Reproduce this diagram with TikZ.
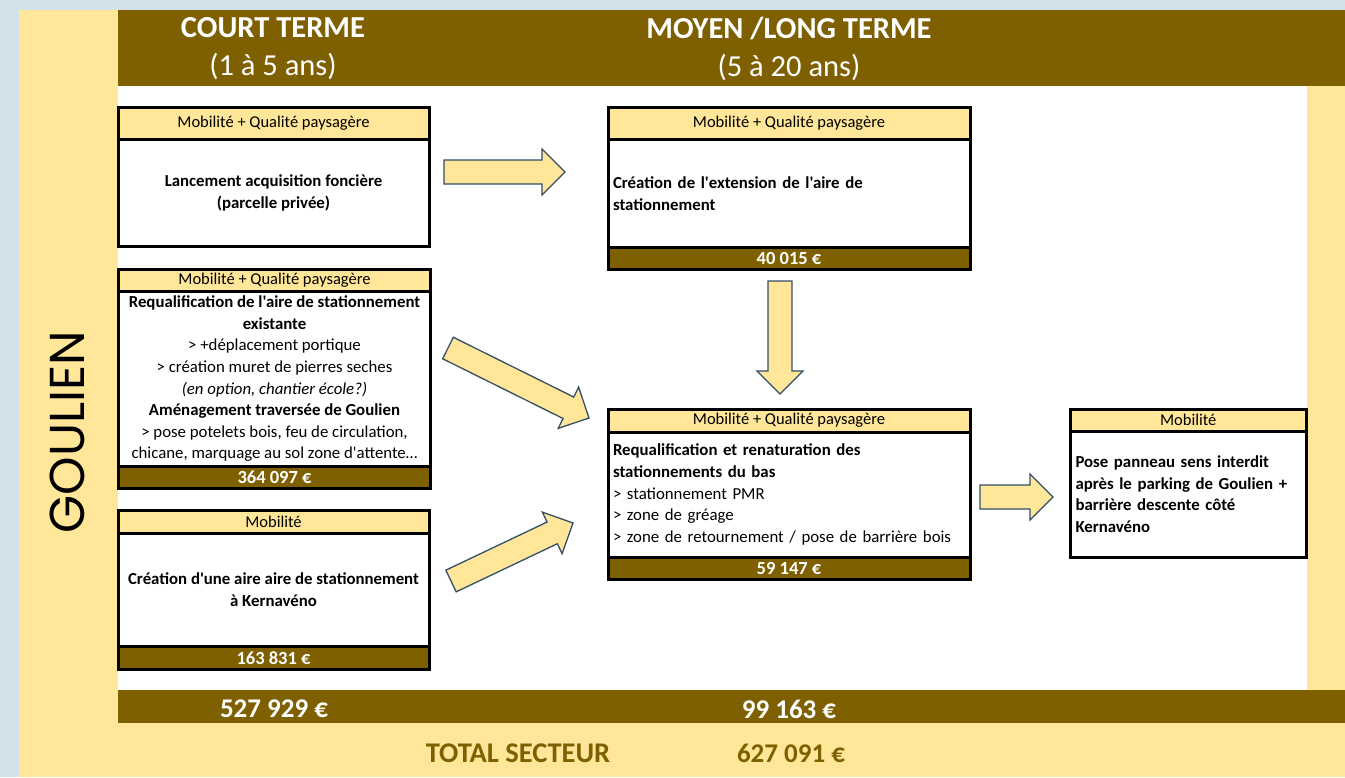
\documentclass[tikz,border=0pt]{standalone}
\usepackage{fontspec}
\setmainfont{Carlito}[Ligatures=TeXOff]
\newfontfamily\secteurfont{Poppins}
\usepackage{xcolor}
\usepackage{tikz}
\usetikzlibrary{calc}

\definecolor{brun}{RGB}{127,96,0}
\definecolor{jaune}{RGB}{255,230,153}
\definecolor{bleugris}{RGB}{210,226,234}
\definecolor{contour}{RGB}{52,78,105}

\tikzset{
    titre/.style={text=white, align=center, font=\fontsize{30.5}{38}\selectfont},
    secteur/.style={font=\secteurfont\fontsize{49}{49}\selectfont},
    entete/.style={draw=black, line width=3pt, fill=jaune, anchor=north west, outer sep=0pt,
        inner sep=0pt, font=\fontsize{16.5}{18}\selectfont},
    corps/.style={draw=black, line width=3pt, fill=white, anchor=north west, outer sep=0pt,
        inner xsep=5pt, inner ysep=0pt, font=\fontsize{16.8}{21.6}\selectfont},
    cout/.style={draw=black, line width=3pt, fill=brun, text=white, anchor=north west, outer sep=0pt,
        inner sep=0pt, font=\bfseries\fontsize{18.5}{19}\selectfont},
    total/.style={text=white, font=\bfseries\fontsize{27}{27}\selectfont},
    fleche/.style={draw=contour, fill=jaune, line width=1.3pt, line join=miter},
}

% grosse fleche pleine entre deux points nommes
\newcommand{\grossefleche}[2]{%
    \coordinate (tmp) at ($(#2)!23pt!(#1)$);
    \draw[fleche] ($(#1)!12pt!90:(#2)$) -- ($(tmp)!12pt!90:(#2)$) -- ($(tmp)!23pt!90:(#2)$)
        -- (#2) -- ($(tmp)!23pt!-90:(#2)$) -- ($(tmp)!12pt!-90:(#2)$) -- ($(#1)!12pt!-90:(#2)$) -- cycle;}

\begin{document}
\begin{tikzpicture}[x=1pt, y=-1pt]
    \useasboundingbox (0,0) rectangle (1345,777);

    % Fond
    \fill[bleugris] (0,0) rectangle (1345,777);
    \fill[jaune] (19,10) rectangle (1345,777);
    \fill[brun] (118,10) rectangle (1345,86);
    \fill[white] (118,86) rectangle (1307,690);
    \fill[brun] (118,690) rectangle (1345,723);

    % Titres
    \node[titre] (court) at (273,49) {\textbf{COURT TERME}\\(1 à 5 ans)};
    \node[titre] (moyen) at (789,49) {\textbf{MOYEN /LONG TERME}\\(5 à 20 ans)};
    \node[secteur, rotate=90] (goulien) at (67,432) {GOULIEN};

    % Court terme
    \node[entete, minimum width=311, minimum height=32] (h1) at (118,107.5) {Mobilité + Qualité paysagère};
    \node[corps, minimum width=311, minimum height=107, align=center] (c1) at (h1.south west)
        {\textbf{Lancement acquisition foncière}\\\textbf{(parcelle privée)}};

    \node[entete, minimum width=312, minimum height=22.5] (h2) at (118.5,269) {Mobilité + Qualité paysagère};
    \node[corps, minimum width=312, minimum height=174.5, align=center] (c2) at (h2.south west)
        {\textbf{Requalification de l'aire de stationnement}\\\textbf{existante}\\
        > +déplacement portique\\> création muret de pierres seches\\
        \textit{(en option, chantier école?)}\\\textbf{Aménagement traversée de Goulien}\\
        > pose potelets bois, feu de circulation,\\chicane, marquage au sol zone d'attente…};
    \node[cout, minimum width=312, minimum height=22] (k2) at (c2.south west) {364 097 €};

    \node[entete, minimum width=311, minimum height=23] (h3) at (118,510) {Mobilité};
    \node[corps, minimum width=311, minimum height=113.5, align=center] (c3) at (h3.south west)
        {\textbf{Création d'une aire aire de stationnement}\\\textbf{à Kernavéno}};
    \node[cout, minimum width=311, minimum height=22.5] (k3) at (c3.south west) {163 831 €};

    % Moyen / long terme
    \node[entete, minimum width=362, minimum height=32] (h4) at (608,107.5) {Mobilité + Qualité paysagère};
    \node[corps, text width=352, minimum height=108, align=left] (c4) at (h4.south west)
        {\textbf{Création de l'extension de l'aire de}\\\textbf{stationnement}};
    \node[cout, minimum width=362, minimum height=22] (k4) at (c4.south west) {40 015 €};

    \node[entete, minimum width=362, minimum height=23] (h5) at (608,409) {Mobilité + Qualité paysagère};
    \node[corps, text width=352, minimum height=125, align=left] (c5) at (h5.south west)
        {\textbf{Requalification et renaturation des}\\\textbf{stationnements du bas}\\
        > stationnement PMR\\> zone de gréage\\> zone de retournement / pose de barrière bois};
    \node[cout, minimum width=362, minimum height=22.5] (k5) at (c5.south west) {59 147 €};

    \node[entete, minimum width=235.5, minimum height=22.5] (h6) at (1070.5,409) {Mobilité};
    \node[corps, text width=225.5, minimum height=125.5, align=left] (c6) at (h6.south west)
        {\textbf{Pose panneau sens interdit}\\\textbf{après le parking de Goulien +}\\
        \textbf{barrière descente côté}\\\textbf{Kernavéno}};

    % Fleches
    \coordinate (f1a) at (444,172);  \coordinate (f1b) at (565,172);
    \coordinate (f2a) at (780,281);  \coordinate (f2b) at (780,394);
    \coordinate (f3a) at (448,348);  \coordinate (f3b) at (589,418);
    \coordinate (f4a) at (451,581);  \coordinate (f4b) at (573,523);
    \coordinate (f5a) at (980,497);  \coordinate (f5b) at (1053,497);
    \grossefleche{f1a}{f1b}
    \grossefleche{f2a}{f2b}
    \grossefleche{f3a}{f3b}
    \grossefleche{f4a}{f4b}
    \grossefleche{f5a}{f5b}

    % Totaux
    \node[total] (tcourt) at (274,709) {527 929 €};
    \node[total] (tmoyen) at (789,709) {99 163 €};
    \node[total, text=brun, font=\bfseries\fontsize{28.5}{28}\selectfont] (tsect) at (518,753) {TOTAL SECTEUR};
    \node[total, text=brun] (tsomme) at (791,753) {627 091 €};
\end{tikzpicture}
\end{document}
